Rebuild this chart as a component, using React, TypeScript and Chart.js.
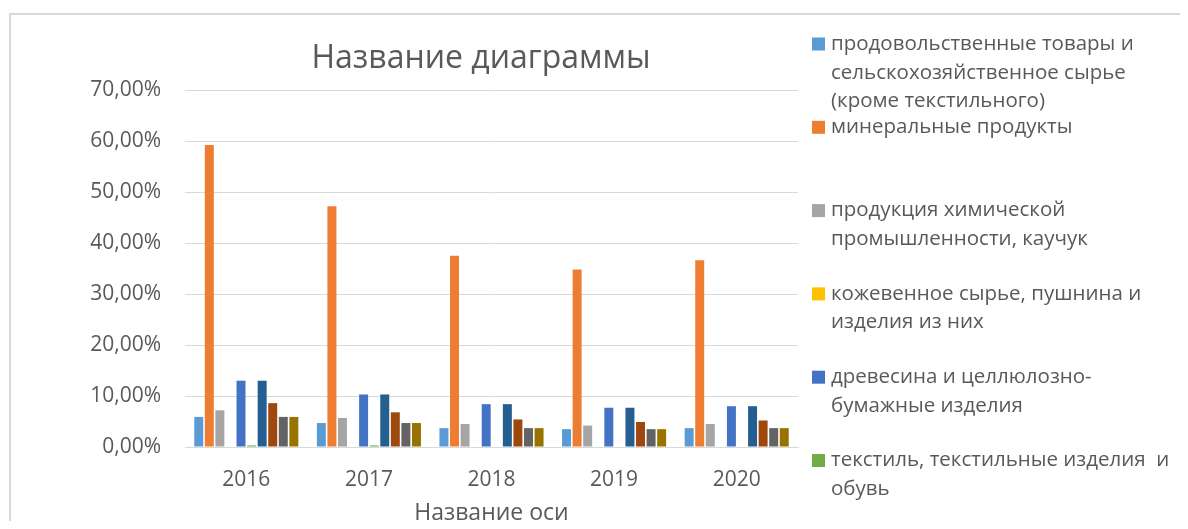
import React, { useEffect, useRef } from "react";
import { Chart, registerables } from "chart.js";

Chart.register(...registerables);

const years = ["2016", "2017", "2018", "2019", "2020"];

const seriesNames = [
  "продовольственные товары и\nсельскохозяйственное сырье\n(кроме текстильного)",
  "минеральные продукты",
  "продукция химической\nпромышленности, каучук",
  "кожевенное сырье, пушнина и\nизделия из них",
  "древесина и целлюлозно-\nбумажные изделия",
  "текстиль, текстильные изделия  и\nобувь",
  "металлы и изделия из них",
  "драгоценные камни и металлы",
  "машины, оборудование и транспортные средства",
  "другие товары",
];

const food = [5.9, 4.7, 3.7, 3.5, 3.7];
const mineral = [59.2, 47.2, 37.5, 34.8, 36.6];
const chemical = [7.2, 5.7, 4.5, 4.2, 4.5];
const leather = [0, 0, 0, 0, 0];
const wood = [13.0, 10.3, 8.4, 7.7, 8.0];
const textile = [0.3, 0.3, 0.1, 0.1, 0.1];
const metals = [13.0, 10.3, 8.4, 7.7, 8.0];
const gems = [8.6, 6.8, 5.4, 4.9, 5.2];
const machinery = [5.9, 4.7, 3.7, 3.5, 3.7];
const other = [5.9, 4.7, 3.7, 3.5, 3.7];

const seriesValues = [food, mineral, chemical, leather, wood, textile, metals, gems, machinery, other];

const seriesColors = [
  "#5B9BD5",
  "#ED7D31",
  "#A5A5A5",
  "#FFC000",
  "#4472C4",
  "#70AD47",
  "#255E91",
  "#9E480E",
  "#636363",
  "#997300",
];

const chartTitle = "Название диаграммы";
const xAxisTitle = "Название оси";
const yTickMax = 70;
const yTickStep = 10;
const legendVisibleCount = 6;

const FONT = "'Open Sans', sans-serif";
const TEXT = "#595959";
const GRID = "#D9D9D9";

const frameAndTitlePlugin = {
  id: "frameAndTitle",
  beforeDraw(chart: any) {
    const ctx = chart.ctx;
    ctx.save();
    ctx.strokeStyle = GRID;
    ctx.lineWidth = 2;
    ctx.strokeRect(2, 6, chart.width + 50, chart.height + 50);
    ctx.restore();
  },
  afterDraw(chart: any) {
    const ctx = chart.ctx;
    ctx.save();
    ctx.fillStyle = TEXT;
    ctx.font = `32px ${FONT}`;
    ctx.textAlign = "center";
    ctx.textBaseline = "middle";
    ctx.fillText(chartTitle, 473, 51);

    // legend (only the visible part of the list)
    const ds = chart.data.datasets;
    const sq = 13;
    const x0 = 804;
    const y0 = 36;
    const itemStep = 83.3;
    const lineStep = 28.7;
    ctx.font = `20.5px ${FONT}`;
    ctx.textAlign = "left";
    for (let i = 0; i < Math.min(legendVisibleCount, ds.length); i++) {
      const cy = y0 + i * itemStep;
      ctx.fillStyle = ds[i].backgroundColor;
      ctx.fillRect(x0, cy - sq / 2, sq, sq);
      ctx.fillStyle = TEXT;
      const lines = seriesNames[i].split("\n");
      lines.forEach((ln, j) => {
        ctx.fillText(ln, x0 + sq + 6, cy + j * lineStep);
      });
    }
    ctx.restore();
  },
};

export default function App() {
  const ref = useRef<HTMLCanvasElement>(null);

  useEffect(() => {
    if (!ref.current) return;
    const chart = new Chart(ref.current, {
      type: "bar",
      data: {
        labels: years,
        datasets: seriesValues.map((vals, i) => ({
          label: seriesNames[i].replace(/\n/g, " "),
          data: vals,
          backgroundColor: seriesColors[i],
          borderWidth: 0,
          categoryPercentage: 0.862,
          barPercentage: 0.85,
        })),
      },
      options: {
        responsive: false,
        animation: false,
        devicePixelRatio: 1,
        layout: { padding: { top: 82, right: 390, bottom: 0, left: 0 } },
        plugins: {
          legend: { display: false },
          title: { display: false },
          tooltip: { enabled: false },
        },
        scales: {
          x: {
            grid: { display: false, drawTicks: false },
            border: { display: true, color: GRID, width: 1 },
            ticks: { color: TEXT, font: { family: FONT, size: 21 }, padding: 20 },
            title: {
              display: true,
              text: xAxisTitle,
              color: TEXT,
              font: { family: FONT, size: 23, lineHeight: 1 },
              padding: { top: 0, bottom: -4 },
            },
            afterFit: (scale: any) => {
              scale.height = 74;
            },
          },
          y: {
            min: 0,
            max: yTickMax,
            grid: { color: GRID, drawTicks: false, lineWidth: 1 },
            border: { display: false },
            ticks: {
              stepSize: yTickStep,
              color: TEXT,
              font: { family: FONT, size: 21 },
              padding: 24,
              callback: (v: any) => Number(v).toFixed(2).replace(".", ",") + "%",
            },
            afterFit: (scale: any) => {
              scale.width = 177;
            },
          },
        },
      },
      plugins: [frameAndTitlePlugin],
    });
    return () => chart.destroy();
  }, []);

  return (
    <canvas
      ref={ref}
      width={1180}
      height={513}
      style={{ display: "block", width: 1180, height: 513 }}
    />
  );
}
